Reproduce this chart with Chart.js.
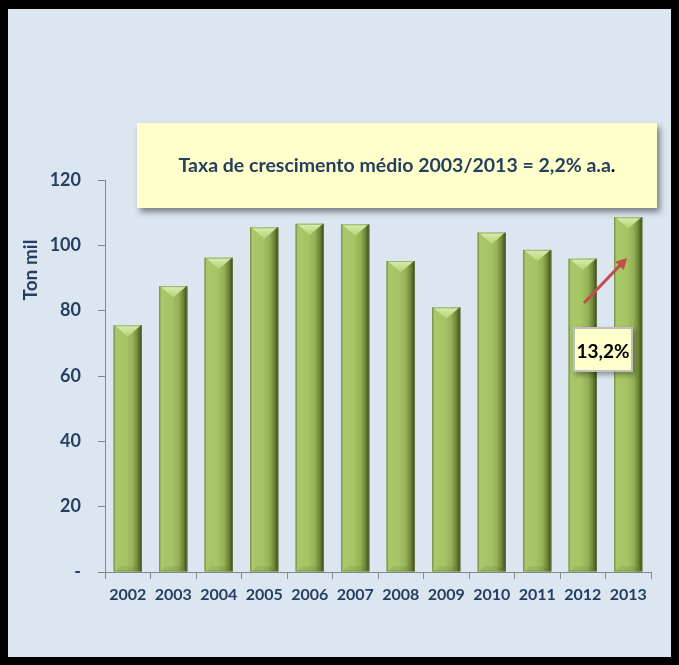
<!DOCTYPE html>
<html><head><meta charset="utf-8">
<script src="https://cdn.jsdelivr.net/npm/chart.js@4"></script>
<style>
html,body{margin:0;padding:0;background:#000;width:679px;height:665px;overflow:hidden}
#panel{position:absolute;left:8px;top:9px;width:663px;height:648px;background:#DCE6F1}
canvas{display:block}
</style></head><body>
<div id="panel"><canvas id="c" width="663" height="648"></canvas></div>
<script>
const categories = ['2002','2003','2004','2005','2006','2007','2008','2009','2010','2011','2012','2013'];
const production = [75.5, 87.5, 96.2, 105.5, 106.6, 106.4, 95.2, 81.0, 103.9, 98.6, 95.9, 108.6];
const yTicks = [0, 20, 40, 60, 80, 100, 120];
const axisTitle = 'Ton mil';
const noteText = 'Taxa de crescimento médio 2003/2013 = 2,2% a.a';
const growthLabel = '13,2%';

const NAVY = '#243F60';
const FONT = 'Lato, "Open Sans", sans-serif';

const barStyle = {
  id: 'barStyle',
  afterDatasetsDraw(chart) {
    const ctx = chart.ctx;
    const meta = chart.getDatasetMeta(0);
    meta.data.forEach(el => {
      const w = el.width, l = el.x - w/2, r = el.x + w/2, t = el.y, b = el.base;
      ctx.save();
      const g = ctx.createLinearGradient(l, 0, r, 0);
      g.addColorStop(0, '#7C963F');
      g.addColorStop(0.07, '#A9C86A');
      g.addColorStop(0.45, '#A5C464');
      g.addColorStop(0.68, '#95B257');
      g.addColorStop(0.86, '#6C8437');
      g.addColorStop(1, '#34431A');
      ctx.fillStyle = g;
      ctx.fillRect(l, t, w, b - t);
      // top bevel
      const h = w * 0.4;
      const tg = ctx.createLinearGradient(0, t, 0, t + h);
      tg.addColorStop(0, '#DCEEAE');
      tg.addColorStop(1, '#B3D176');
      ctx.fillStyle = tg;
      ctx.beginPath();
      ctx.moveTo(l + 1, t);
      ctx.lineTo(r - 1, t);
      ctx.lineTo(el.x, t + h);
      ctx.closePath();
      ctx.fill();
      // bottom bevel
      ctx.fillStyle = 'rgba(60,80,20,0.12)';
      ctx.beginPath();
      ctx.moveTo(l + 2, b);
      ctx.lineTo(r - 2, b);
      ctx.lineTo(r - w*0.2, b - 5);
      ctx.lineTo(l + w*0.2, b - 5);
      ctx.closePath();
      ctx.fill();
      ctx.strokeStyle = 'rgba(120,140,80,0.6)';
      ctx.lineWidth = 1;
      ctx.strokeRect(l + 0.5, t + 0.5, w - 1, b - t - 1);
      ctx.restore();
    });
  }
};

const annotations = {
  id: 'annotations',
  afterDraw(chart) {
    const ctx = chart.ctx;
    ctx.save();
    // Y axis title
    ctx.save();
    ctx.translate(23, 261);
    ctx.rotate(-Math.PI/2);
    ctx.fillStyle = NAVY;
    ctx.font = 'bold 19px ' + FONT;
    ctx.textAlign = 'center';
    ctx.textBaseline = 'middle';
    ctx.fillText(axisTitle, 0, 0);
    ctx.restore();

    // Big note box
    ctx.save();
    ctx.shadowColor = 'rgba(0,0,0,0.45)';
    ctx.shadowBlur = 6;
    ctx.shadowOffsetX = 3;
    ctx.shadowOffsetY = 4;
    ctx.fillStyle = '#FFFFCC';
    ctx.fillRect(129, 114, 520, 85);
    ctx.restore();
    ctx.font = 'bold 19.5px ' + FONT;
    ctx.textBaseline = 'middle';
    const tw = ctx.measureText(noteText).width;
    const dw = ctx.measureText('.').width;
    const sx = 389 - (tw + dw) / 2;
    ctx.textAlign = 'left';
    ctx.fillStyle = NAVY;
    ctx.fillText(noteText, sx, 157);
    ctx.fillStyle = '#000';
    ctx.fillText('.', sx + tw, 157);

    // Arrow between 2012 and 2013
    const x0 = 576, y0 = 294, x1 = 619, y1 = 249;
    ctx.strokeStyle = '#C0504D';
    ctx.fillStyle = '#C0504D';
    ctx.lineWidth = 3;
    const ang = Math.atan2(y1 - y0, x1 - x0);
    const hl = 11;
    ctx.beginPath();
    ctx.moveTo(x0, y0);
    ctx.lineTo(x1 - hl*0.8*Math.cos(ang), y1 - hl*0.8*Math.sin(ang));
    ctx.stroke();
    ctx.beginPath();
    ctx.moveTo(x1, y1);
    ctx.lineTo(x1 - hl*Math.cos(ang) + 6*Math.sin(ang), y1 - hl*Math.sin(ang) - 6*Math.cos(ang));
    ctx.lineTo(x1 - hl*Math.cos(ang) - 6*Math.sin(ang), y1 - hl*Math.sin(ang) + 6*Math.cos(ang));
    ctx.closePath();
    ctx.fill();

    // Small growth box
    ctx.save();
    ctx.shadowColor = 'rgba(0,0,0,0.35)';
    ctx.shadowBlur = 5;
    ctx.shadowOffsetX = 2;
    ctx.shadowOffsetY = 3;
    ctx.fillStyle = '#FFFFCC';
    ctx.fillRect(565, 318, 60, 45);
    ctx.restore();
    ctx.strokeStyle = '#BFBFBF';
    ctx.lineWidth = 2;
    ctx.strokeRect(566, 319, 58, 43);
    ctx.fillStyle = '#000';
    ctx.font = 'bold 19px ' + FONT;
    ctx.textAlign = 'center';
    ctx.fillText(growthLabel, 595, 343);
    ctx.restore();
  }
};

new Chart(document.getElementById('c'), {
  type: 'bar',
  data: {
    labels: categories,
    datasets: [{
      data: production,
      backgroundColor: '#A4C463',
      borderWidth: 0,
      barPercentage: 0.62,
      categoryPercentage: 1.0
    }]
  },
  options: {
    responsive: false,
    animation: false,
    layout: { padding: { top: 171, right: 20, left: 0, bottom: 0 } },
    plugins: { legend: { display: false }, tooltip: { enabled: false } },
    scales: {
      x: {
        grid: { drawOnChartArea: false, color: '#868686', tickLength: 7, offset: true },
        border: { color: '#868686', width: 1 },
        ticks: { color: NAVY, font: { family: FONT, size: 16, weight: 'bold' }, padding: 6, maxRotation: 0 },
        afterFit(s) { s.height = 85; }
      },
      y: {
        min: 0, max: 120,
        afterBuildTicks(s) { s.ticks = yTicks.map(v => ({ value: v })); },
        grid: { drawOnChartArea: false, color: '#868686', tickLength: 7 },
        border: { color: '#868686', width: 1 },
        ticks: {
          color: NAVY, font: { family: FONT, size: 18, weight: 'bold' }, padding: 17,
          callback: v => v === 0 ? '-' : String(v)
        },
        afterFit(s) { s.width = 97; }
      }
    }
  },
  plugins: [barStyle, annotations]
});
</script>
</body></html>
